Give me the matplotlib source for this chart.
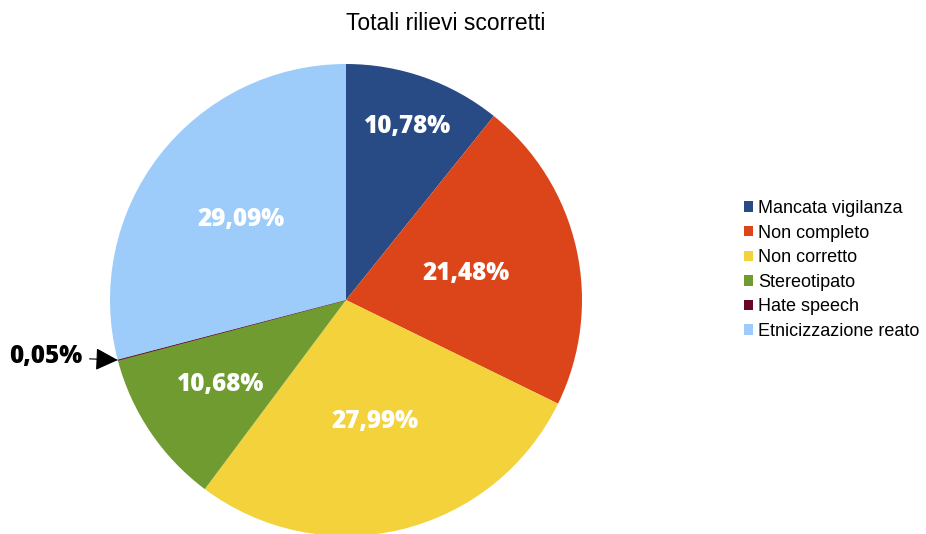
import numpy as np
import matplotlib
matplotlib.use("Agg")
import matplotlib.pyplot as plt

title = "Totali rilievi scorretti"
categories = ["Mancata vigilanza", "Non completo", "Non corretto",
              "Stereotipato", "Hate speech", "Etnicizzazione reato"]
percentages = [10.78, 21.48, 27.99, 10.68, 0.05, 29.09]
colors = ["#284a85", "#dc4519", "#f3d23c", "#6f9b31", "#6a0525", "#9dcbfa"]
# radial position of each percentage label (fraction of radius)
label_radius = [0.78, 0.52, 0.53, 0.64, None, 0.56]

W, H = 926, 534
fig = plt.figure(figsize=(W / 100, H / 100), dpi=100)
ax = fig.add_axes([0, 0, 1, 1])

cx, cy, r = 346, H - 300, 236
wedges, _ = ax.pie(percentages, colors=colors, startangle=90, counterclock=False,
                   center=(cx, cy), radius=r, normalize=True,
                   wedgeprops=dict(linewidth=0.4, edgecolor="none"))
wedges[4].set_edgecolor("#6a0525")
ax.set_xlim(0, W)
ax.set_ylim(0, H)
ax.set_aspect("equal")
ax.set_axis_off()

label_font = dict(family=["Open Sans", "DejaVu Sans"], weight=800, fontsize=17.5)

def fmt(v):
    return f"{v:.2f}".replace(".", ",") + "%"

for w, v, lr in zip(wedges, percentages, label_radius):
    mid = np.deg2rad((w.theta1 + w.theta2) / 2)
    if lr is None:
        tip = (cx + r * np.cos(mid), cy + r * np.sin(mid))
        ax.annotate(fmt(v), xy=tip, xytext=(46, H - 357), color="black",
                    ha="center", va="center", **label_font,
                    arrowprops=dict(arrowstyle="-|>,head_length=0.8,head_width=0.4",
                                    color="black", lw=0.8, shrinkA=3, shrinkB=0))
        continue
    ax.text(cx + lr * r * np.cos(mid), cy + lr * r * np.sin(mid), fmt(v),
            color="white", ha="center", va="center", **label_font)

fig.text(446 / W, 1 - 23 / H, title, ha="center", va="center",
         family=["Liberation Sans"], fontsize=16.5, color="black")

leg = ax.legend(wedges, categories, loc="upper left",
                bbox_to_anchor=(735 / W, 1 - 191 / H), bbox_transform=fig.transFigure,
                frameon=False, handlelength=0.5, handleheight=0.5, handletextpad=0.3,
                labelspacing=0.42, borderpad=0,
                prop=dict(family="Liberation Sans", size=13))
for h in leg.legend_handles:
    h.set_linewidth(0)

fig.savefig("out.png", dpi=100, facecolor="white")
